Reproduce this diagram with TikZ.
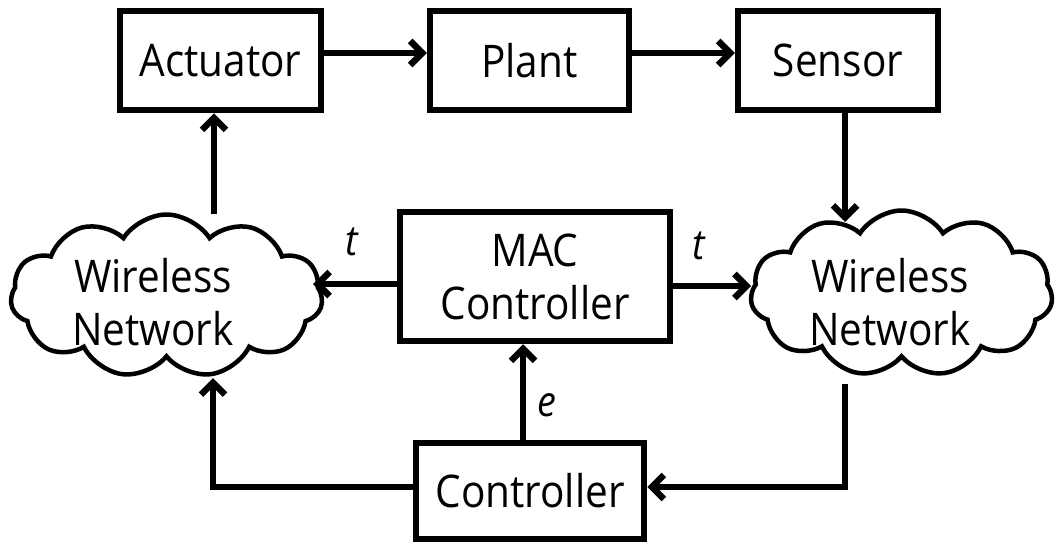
\documentclass[tikz,border=0pt]{standalone}
\usepackage{fontspec}
\setmainfont{Open Sans}[FakeStretch=0.9]
\usetikzlibrary{shapes.symbols,arrows.meta}
\begin{document}
\begin{tikzpicture}[x=1pt,y=-1pt,
  lbl/.style={font=\fontsize{45}{53}\selectfont, align=center, inner sep=0pt},
  blk/.style={draw, line width=6.5pt, lbl},
  cld/.style={draw, cloud, cloud puffs=11, cloud puff arc=115, aspect=1.8,
    line width=4.5pt, inner sep=0pt},
  arr/.style={line width=6.5pt, -{Straight Barb[length=12pt,width=24pt]}},
  var/.style={font=\fontsize{42}{42}\selectfont\itshape, inner sep=0pt}]
\useasboundingbox (0,0) rectangle (1057,544);

% top row
\node[blk, minimum width=201pt, minimum height=99pt] (act) at (220.5,60.5) {Actuator};
\node[blk, minimum width=199pt, minimum height=99pt] (plant) at (529.5,60.5) {Plant};
\node[blk, minimum width=200pt, minimum height=99pt] (sen) at (838,60.5) {Sensor};

% middle row
\node[blk, minimum width=270pt, minimum height=129pt] (mac) at (535,276.5) {MAC\\Controller};
\node[cld, minimum width=312pt, minimum height=163pt] (wl) at (166.5,296) {};
\node[lbl] (wltxt) at (153,302) {Wireless\\Network};
\node[cld, minimum width=302pt, minimum height=166pt] (wr) at (901.5,293.5) {};
\node[lbl] (wrtxt) at (890,302) {Wireless\\Network};

% bottom
\node[blk, minimum width=228pt, minimum height=96pt] (ctrl) at (530,491) {Controller};

% points where connectors meet the clouds
\coordinate (wlT) at (214,214);
\coordinate (wlR) at (313,284);
\coordinate (wlB) at (213,378);
\coordinate (wrT) at (845,222);
\coordinate (wrL) at (751,286);
\coordinate (wrB) at (845,384);
\coordinate (eX) at (523,0);
\coordinate (topY) at (0,53);

% forward path
\draw[arr] (act.east |- topY) -- (plant.west |- topY);
\draw[arr] (plant.east |- topY) -- (sen.west |- topY);
\draw[arr] (sen.south -| wrT) -- (wrT);
\draw[arr] (wlT) -- (wlT |- act.south);

% MAC controller outputs
\draw[arr] (mac.west |- wlR) -- (wlR);
\draw[arr] (mac.east |- wrL) -- (wrL);
\draw[arr] (ctrl.north -| eX) -- (mac.south -| eX);

% feedback through the controller
\draw[arr] (wrB) |- ([yshift=4pt]ctrl.east);
\draw[arr] ([yshift=4pt]ctrl.west) -| (wlB);

% labels
\node[var] (tl) at (352,242) {t};
\node[var] (tr) at (699,246) {t};
\node[var] (ee) at (547,405) {e};
\end{tikzpicture}
\end{document}
